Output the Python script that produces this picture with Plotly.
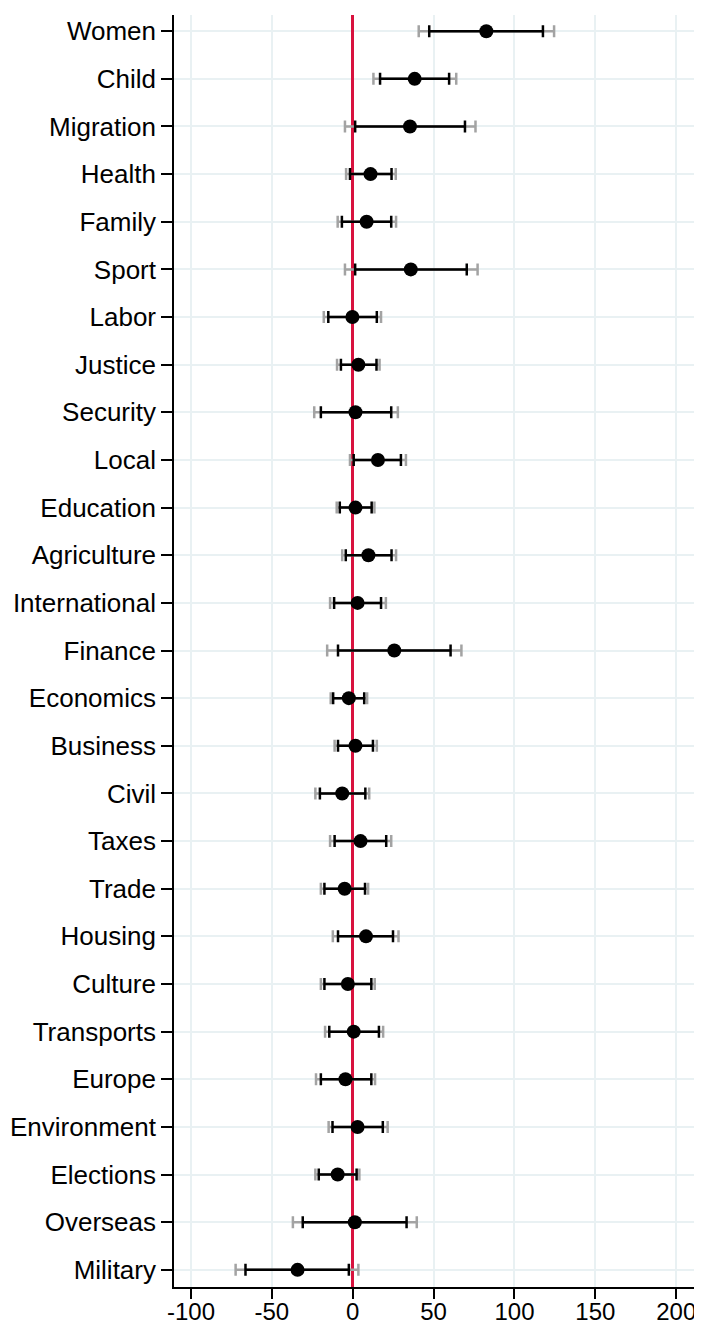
import plotly.graph_objects as go
import numpy as np

# topics, top to bottom as shown
topics = ['Women', 'Child', 'Migration', 'Health', 'Family', 'Sport', 'Labor',
          'Justice', 'Security', 'Local', 'Education', 'Agriculture',
          'International', 'Finance', 'Economics', 'Business', 'Civil', 'Taxes',
          'Trade', 'Housing', 'Culture', 'Transports', 'Europe', 'Environment',
          'Elections', 'Overseas', 'Military']

coef = [82.6, 38.3, 35.4, 11.0, 8.6, 35.9, -0.2, 3.5, 1.7, 15.6, 1.7, 9.7,
        3.0, 25.7, -2.4, 1.7, -6.5, 4.8, -5.0, 8.2, -3.0, 0.6, -4.5, 3.0,
        -9.3, 1.3, -34.1]

# outer interval (grey)
lo95 = [40.8, 12.8, -4.8, -4.1, -9.3, -4.8, -17.9, -9.7, -23.8, -1.7, -9.9, -6.5,
        -14.0, -15.8, -13.6, -11.2, -23.1, -14.0, -19.7, -12.3, -19.7, -17.1, -22.7, -14.9,
        -23.1, -37.0, -72.4]
hi95 = [124.5, 64.0, 75.9, 26.6, 26.8, 77.2, 17.5, 16.6, 27.9, 32.9, 13.4, 26.8,
        20.5, 67.2, 8.9, 14.9, 10.2, 23.8, 9.5, 28.3, 13.6, 18.8, 13.8, 21.6,
        4.1, 39.6, 3.5]

# inner interval (black)
lo90 = [47.3, 16.9, 1.5, -1.7, -6.7, 1.5, -15.1, -7.3, -19.7, 0.6, -8.0, -4.3,
        -11.5, -9.1, -12.1, -9.1, -20.3, -11.2, -17.5, -9.1, -17.5, -14.5, -19.7, -12.5,
        -21.0, -30.9, -66.3]
hi90 = [117.6, 59.6, 69.4, 24.0, 23.8, 70.5, 14.9, 14.7, 23.8, 29.8, 11.7, 24.0,
        17.5, 60.5, 7.1, 12.5, 7.8, 20.7, 7.6, 24.9, 11.5, 16.2, 11.5, 18.6,
        2.4, 33.3, -2.4]

x_ticks = [-100, -50, 0, 50, 100, 150, 200]
x_labels = ['-100', '-50', '0', '50', '100', '150', '200']

c = np.array(coef)
font = dict(family='Helvetica, Liberation Sans, Arial', size=26, color='black')
xfont = dict(family='Helvetica, Liberation Sans, Arial', size=24, color='black')

fig = go.Figure()

fig.add_trace(go.Scatter(
    x=coef, y=topics, mode='markers',
    marker=dict(size=1, color='rgba(0,0,0,0)'),
    error_x=dict(type='data', symmetric=False,
                 array=np.array(hi95) - c, arrayminus=c - np.array(lo95),
                 color='#a3a3a3', thickness=2.5, width=6),
    hoverinfo='skip', showlegend=False))

fig.add_trace(go.Scatter(
    x=coef, y=topics, mode='markers',
    marker=dict(size=14, color='black'),
    error_x=dict(type='data', symmetric=False,
                 array=np.array(hi90) - c, arrayminus=c - np.array(lo90),
                 color='black', thickness=2.5, width=6),
    showlegend=False))

# page body has an 8px margin, so the figure is sized to fit inside it
fig.update_layout(
    width=694, height=1317,
    margin=dict(l=166, r=8, t=7, b=38),
    plot_bgcolor='white', paper_bgcolor='white',
    font=font,
)

fig.update_xaxes(
    range=[-110.5, 211], tickvals=x_ticks, ticktext=x_labels,
    automargin=False, ticklabelstandoff=-8,
    showgrid=True, gridcolor='#e9f1f3', gridwidth=2,
    zeroline=True, zerolinecolor='#d8123e', zerolinewidth=2.5,
    showline=True, linecolor='black', linewidth=1.6,
    ticks='outside', ticklen=10, tickwidth=1.5, tickcolor='black',
    tickfont=xfont)

fig.update_yaxes(
    categoryorder='array', categoryarray=topics[::-1],
    range=[-0.36, 26.34], automargin=False,
    showgrid=True, gridcolor='#e9f1f3', gridwidth=2,
    showline=True, linecolor='black', linewidth=1.6,
    ticks='outside', ticklen=11, tickwidth=1.5, tickcolor='black',
    tickfont=font)

fig.write_html("out.html")
